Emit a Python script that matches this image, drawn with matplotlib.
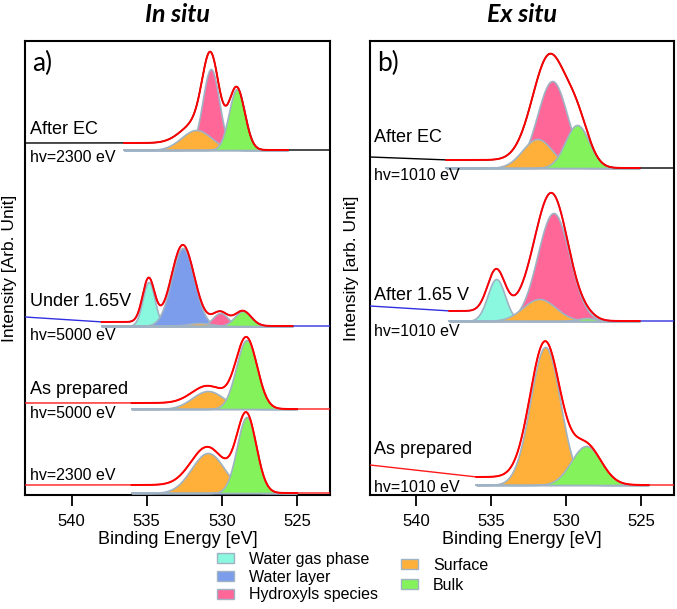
import numpy as np
import matplotlib.pyplot as plt
from matplotlib.patches import Patch

plt.rcParams['font.family'] = ['Liberation Sans', 'DejaVu Sans']

# component colours
comp_colors = {
    'Water gas phase': '#8AF8DE',
    'Water layer': '#7C9DEB',
    'Hydroxyls species': '#FF6799',
    'Surface': '#FFB03A',
    'Bulk': '#84F25A',
}
draw_order = ['Water gas phase', 'Water layer', 'Hydroxyls species', 'Surface', 'Bulk']
edge_col = '#9FB3C4'

# ---- panel a (in situ) ----
# offset of each spectrum, shirley step, fit range, level of raw trace at 543 eV
a_names = ['After EC', 'Under 1.65V', 'As prepared', '']
a_hv = ['hv=2300 eV', 'hv=5000 eV', 'hv=5000 eV', 'hv=2300 eV']
a_raw_color = ['black', '#3030E0', '#FF1A1A', '#FF1A1A']
a_base = [345, 169, 86, 2]
a_step = [7, 4, 6, 8]
a_fit_lo = [525.6, 525.3, 525.0, 525.0]
a_fit_hi = [536.5, 538.0, 536.0, 536.0]
a_raw_left = [352, 178, 92, 10]
# peaks: (component, center eV, height, sigma eV)
a_peaks = [
    [('Surface', 531.7, 20, 1.0), ('Hydroxyls species', 530.73, 81, 0.55), ('Bulk', 529.0, 61, 0.53)],
    [('Water gas phase', 534.87, 44, 0.4), ('Water layer', 532.6, 78, 0.75),
     ('Surface', 531.5, 3, 0.8), ('Hydroxyls species', 530.1, 13, 0.5), ('Bulk', 528.6, 15, 0.55)],
    [('Surface', 530.93, 18, 1.05), ('Bulk', 528.35, 69, 0.7)],
    [('Surface', 530.93, 40, 1.1), ('Bulk', 528.35, 76, 0.65)],
]
a_name_y = [365, 193, 106, None]
a_hv_y = [337, 159, 82, 20]

# ---- panel b (ex situ) ----
b_names = ['After EC', 'After 1.65 V', 'As prepared']
b_hv = ['hv=1010 eV', 'hv=1010 eV', 'hv=1010 eV']
b_raw_color = ['black', '#3030E0', '#FF1A1A']
b_base = [327, 174, 10]
b_step = [8, 10, 8]
b_fit_lo = [525.1, 525.1, 524.5]
b_fit_hi = [538.0, 537.8, 536.0]
b_raw_left = [338, 189, 30]
b_peaks = [
    [('Hydroxyls species', 530.93, 87, 1.0), ('Surface', 531.93, 29, 1.0), ('Bulk', 529.27, 43, 0.8)],
    [('Water gas phase', 534.67, 42, 0.58), ('Hydroxyls species', 530.85, 108, 1.07),
     ('Surface', 531.8, 22, 1.1), ('Bulk', 528.6, 3, 0.6)],
    [('Surface', 531.4, 138, 1.0), ('Bulk', 528.67, 39, 1.0)],
]
b_name_y = [358, 200, 45]
b_hv_y = [320, 164, 8]

E_LEFT, E_RIGHT = 543.1, 522.8


def draw_spectrum(ax, base, step, lo, hi, raw_left, peaks, raw_color):
    E = np.linspace(hi, lo, 500)
    comps = {}
    total = np.zeros_like(E)
    for name, c, h, s in peaks:
        g = h * np.exp(-(E - c) ** 2 / (2 * s ** 2))
        comps[name] = g
        total += g
    # shirley-like background: grows towards high binding energy
    cum = np.cumsum(total[::-1])[::-1]
    bg = base + step * cum / cum[0]
    env = bg + total
    ax.plot(E, np.full_like(E, base), color=edge_col, lw=1.4, zorder=2)
    for name in draw_order:
        if name in comps:
            ax.fill_between(E, base, base + comps[name], facecolor=comp_colors[name],
                            edgecolor=edge_col, lw=1.2, zorder=3)
    rx = np.concatenate([[E_LEFT], E, [E_RIGHT]])
    ry = np.concatenate([[raw_left], env, [base]])
    ax.plot(rx, ry, color=raw_color, lw=1.0, zorder=4)
    ax.plot(E, env, color='#FF0000', lw=1.4, zorder=5)


fig = plt.figure(figsize=(6.77, 6.09), dpi=100)
ax_a = fig.add_axes([25 / 677, 114 / 609, 305 / 677, 454 / 609])
ax_b = fig.add_axes([370 / 677, 114 / 609, 304 / 677, 454 / 609])

for i in range(len(a_base)):
    draw_spectrum(ax_a, a_base[i], a_step[i], a_fit_lo[i], a_fit_hi[i],
                  a_raw_left[i], a_peaks[i], a_raw_color[i])
    if a_names[i]:
        ax_a.text(542.8, a_name_y[i], a_names[i], fontsize=13, va='center', ha='left')
    ax_a.text(542.8, a_hv_y[i], a_hv[i], fontsize=11.5, va='center', ha='left')

for i in range(len(b_base)):
    draw_spectrum(ax_b, b_base[i], b_step[i], b_fit_lo[i], b_fit_hi[i],
                  b_raw_left[i], b_peaks[i], b_raw_color[i])
    ax_b.text(542.8, b_name_y[i], b_names[i], fontsize=13, va='center', ha='left')
    ax_b.text(542.8, b_hv_y[i], b_hv[i], fontsize=11.5, va='center', ha='left')

for ax, lab in [(ax_a, 'a)'), (ax_b, 'b)')]:
    ax.set_xlim(E_LEFT, E_RIGHT)
    ax.set_ylim(0, 454)
    ax.set_xticks([540, 535, 530, 525])
    ax.set_yticks([])
    ax.tick_params(axis='x', direction='out', length=8, width=1.3, labelsize=12, pad=6)
    for sp in ax.spines.values():
        sp.set_linewidth(1.5)
    ax.set_xlabel('Binding Energy [eV]', fontsize=13, labelpad=1)
    ax.text(542.6, 432, lab, fontsize=19, va='center', ha='left', family=['Lato', 'DejaVu Sans'])

fig.text(10 / 677, 1 - 268 / 609, 'Intensity [Arb. Unit]', rotation=90, fontsize=12.5,
         ha='center', va='center')
fig.text(352 / 677, 1 - 268 / 609, 'Intensity [arb. Unit]', rotation=90, fontsize=12.5,
         ha='center', va='center')

fig.text(177 / 677, 1 - 14 / 609, 'In situ', fontsize=18, fontweight='bold', fontstyle='italic',
         ha='center', va='center', family=['Lato', 'DejaVu Sans'])
fig.text(522 / 677, 1 - 14 / 609, 'Ex situ', fontsize=18, fontweight='bold', fontstyle='italic',
         ha='center', va='center', family=['Lato', 'DejaVu Sans'])

leg1_names = ['Water gas phase', 'Water layer', 'Hydroxyls species']
leg2_names = ['Surface', 'Bulk']
h1 = [Patch(facecolor=comp_colors[n], edgecolor=edge_col, label=n) for n in leg1_names]
h2 = [Patch(facecolor=comp_colors[n], edgecolor=edge_col, label=n) for n in leg2_names]
fig.legend(handles=h1, loc='upper left', bbox_to_anchor=(217 / 677, 1 - 552 / 609), frameon=False,
           fontsize=11.5, borderpad=0, borderaxespad=0, handlelength=1.05, handleheight=0.6,
           handletextpad=0.95, labelspacing=0.17)
fig.legend(handles=h2, loc='upper left', bbox_to_anchor=(401 / 677, 1 - 558 / 609), frameon=False,
           fontsize=11.5, borderpad=0, borderaxespad=0, handlelength=1.05, handleheight=0.6,
           handletextpad=0.95, labelspacing=0.3)

fig.savefig('out.png', dpi=100)
